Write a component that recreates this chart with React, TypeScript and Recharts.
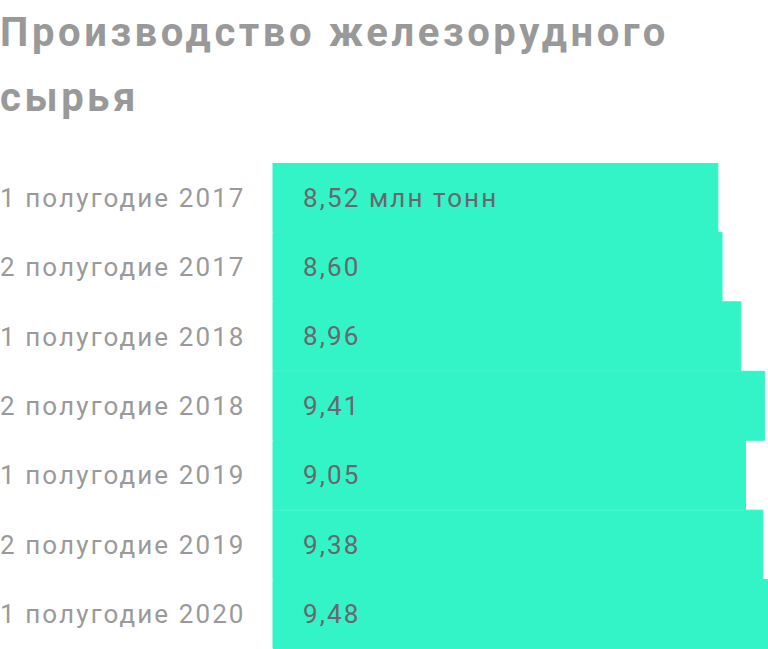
import React from "react"
import { BarChart, Bar, XAxis, YAxis, LabelList } from "recharts"

const periods = [
  "1 полугодие 2017",
  "2 полугодие 2017",
  "1 полугодие 2018",
  "2 полугодие 2018",
  "1 полугодие 2019",
  "2 полугодие 2019",
  "1 полугодие 2020",
]
const output = [8.52, 8.6, 8.96, 9.41, 9.05, 9.38, 9.48]
const unit = " млн тонн"

const data = periods.map((p, i) => ({ name: p, value: output[i] }))

const FONT = "Roboto, sans-serif"

const PeriodTick = (props: any) => {
  const { y, payload } = props
  return (
    <text x={0} y={y} dy={9} textAnchor="start" fill="#9a9a9a" fontSize={26} letterSpacing={2.1} fontFamily={FONT}>
      {payload.value}
    </text>
  )
}

const ValueLabel = (props: any) => {
  const { x, y, height, value, index } = props
  const txt = String(value.toFixed(2)).replace(".", ",") + (index === 0 ? unit : "")
  return (
    <text x={x + 30} y={y + height / 2} dy={9} fill="#6b666e" fontSize={26} letterSpacing={2.1} fontFamily={FONT}>
      {txt}
    </text>
  )
}

export default function App() {
  return (
    <div style={{ position: "absolute", left: 0, top: 0, width: 768, height: 649, background: "#fff", overflow: "hidden" }}>
      <div
        style={{
          fontFamily: FONT,
          fontWeight: 700,
          fontSize: 40,
          lineHeight: "65px",
          letterSpacing: 3.6,
          color: "#999999",
          height: 163,
          whiteSpace: "nowrap",
        }}
      >
        Производство железорудного
        <br />
        сырья
      </div>
      <BarChart
        width={768}
        height={486}
        data={data}
        layout="vertical"
        margin={{ top: 0, right: 0, bottom: 0, left: 0 }}
        barCategoryGap={0}
      >
        <XAxis type="number" domain={[0, 9.48]} hide />
        <YAxis type="category" dataKey="name" width={273} axisLine={false} tickLine={false} tick={<PeriodTick />} />
        <Bar dataKey="value" fill="#33f4c6" stroke="#33f4c6" strokeWidth={1} isAnimationActive={false}>
          <LabelList dataKey="value" content={<ValueLabel />} />
        </Bar>
      </BarChart>
    </div>
  )
}
